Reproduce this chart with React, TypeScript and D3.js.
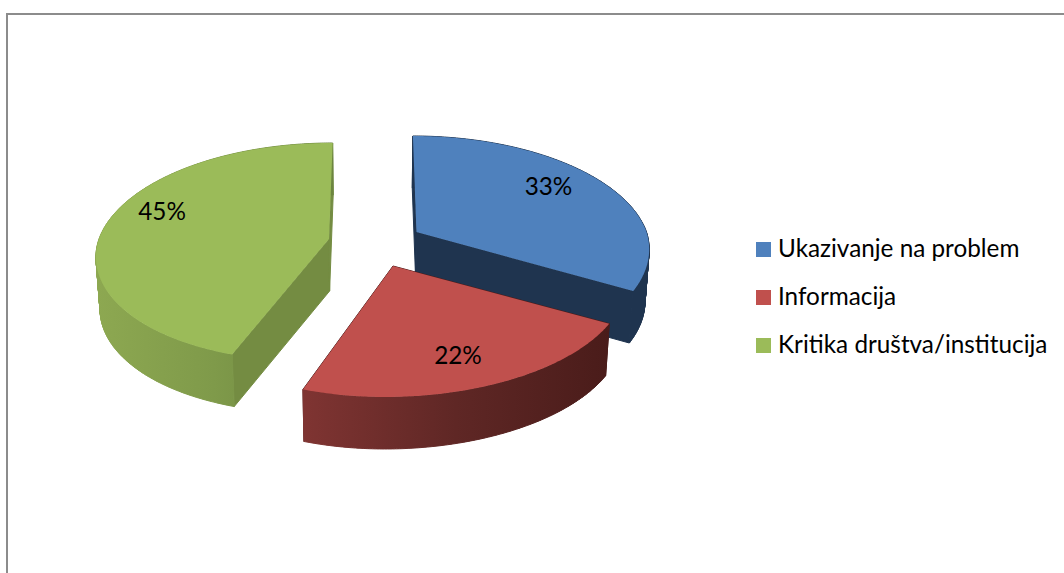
import React from "react";
import * as d3 from "d3";

const categories = ["Ukazivanje na problem", "Informacija", "Kritika društva/institucija"];
const shares = [33, 22, 45];
const topColors = ["#4F81BD", "#C0504D", "#9BBB59"];
const cutColors = ["#1F344F", "#4C1C1B", "#748C42"];
const wallStops = [
  ["#1F344F", "#1F344F", "#1F344F"],
  ["#7F3432", "#5F2725", "#4A1C1A"],
  ["#8DA851", "#7F9A4A", "#6C853F"],
];
const apexes: [number, number][] = [[416.5, 232], [393, 266], [329, 239]];
const labelNudges: [number, number][] = [[2, 0], [2, 18], [-11, -7]];

const W = 1064, H = 573;
const R = 230, RY = 110.8, K = 0.154, DEPTH = 52, VANISH = 370, SHRINK = 0.985;
const FONT = "Lato, 'Open Sans', sans-serif";
const FS = 24.3;

function project(a: number, r: number, c: [number, number]): [number, number] {
  const s = 1 / (1 + K * r * Math.cos(a));
  const dx = s > 1 ? (c[0] - 457) * 3.6 * (s - 1) * (s - 1) : (c[0] - 373) * 0.62 * (s - 1);
  const dy = s > 1 ? (c[0] - 393) * 0.72 * (s - 1) : 0;
  return [c[0] + R * r * Math.sin(a) * s + dx, c[1] - RY * r * Math.cos(a) * s + dy];
}
const drop = (p: [number, number]): [number, number] => [
  VANISH + (p[0] - VANISH) * SHRINK,
  p[1] + DEPTH,
];

const pieGen = d3.pie<number>().sort(null).value((d) => d);
const arcs = pieGen(shares);
const line = d3.line().curve(d3.curveLinear);

// Painted back to front: blue, green, then the red slice at the front.
const paintOrder = [0, 2, 1];

export default function App() {
  return (
    <svg
      width={W}
      height={H}
      viewBox={`0 0 ${W} ${H}`}
      style={{ position: "absolute", left: 0, top: 0, background: "#fff" }}
    >
      <defs>
        {arcs.map((arc, i) => {
          const rim = d3.range(arc.startAngle, arc.endAngle, 0.02).map((a) => project(a, 1, apexes[i]));
          const [x0, x1] = d3.extent(rim, (p) => p[0]) as [number, number];
          return (
            <linearGradient key={i} id={`wall${i}`} gradientUnits="userSpaceOnUse" x1={x0} x2={x1} y1={0} y2={0}>
              {wallStops[i].map((col, j) => (
                <stop key={j} offset={j / 2} stopColor={col} />
              ))}
            </linearGradient>
          );
        })}
      </defs>

      <path d={`M7,${H}V14H${W}`} fill="none" stroke="#8C8C8C" strokeWidth={2} />

      {paintOrder.map((i) => {
        const arc = arcs[i];
        const c = apexes[i];
        const angles = [...d3.range(arc.startAngle, arc.endAngle, 0.01), arc.endAngle];
        const rim = angles.map((a) => project(a, 1, c));
        const apexLow = drop(c);
        const first = rim[0];
        const last = rim[rim.length - 1];
        // One quad per rim step, so the silhouette keeps its tangent edge.
        const wall = d3
          .pairs(rim)
          .map(([p, q]) => line([p, q, drop(q), drop(p)]) + "Z")
          .join("");
        return (
          <g key={i}>
            <path d={line([c, first, drop(first), apexLow])! + "Z"} fill={cutColors[i]} stroke={cutColors[i]} strokeWidth={1} />
            <path d={line([c, last, drop(last), apexLow])! + "Z"} fill={cutColors[i]} stroke={cutColors[i]} strokeWidth={1} />
            <path d={wall} fill={`url(#wall${i})`} stroke={`url(#wall${i})`} strokeWidth={1} />
            <path d={line([c, ...rim])! + "Z"} fill={topColors[i]} />
          </g>
        );
      })}

      {arcs.map((arc, i) => {
        const mid = (arc.startAngle + arc.endAngle) / 2;
        const p = project(mid, 0.7, apexes[i]);
        return (
          <text
            key={i}
            x={p[0] + labelNudges[i][0]}
            y={p[1] + labelNudges[i][1]}
            textAnchor="middle"
            fontFamily={FONT}
            fontSize={FS}
            fill="#000"
          >
            {shares[i]}%
          </text>
        );
      })}

      {categories.map((name, i) => {
        const y = 257 + i * 48;
        return (
          <g key={name}>
            <rect x={756} y={y - 15} width={15} height={15} fill={topColors[i]} />
            <text x={778} y={y} fontFamily={FONT} fontSize={FS} fill="#000">
              {name}
            </text>
          </g>
        );
      })}
    </svg>
  );
}
